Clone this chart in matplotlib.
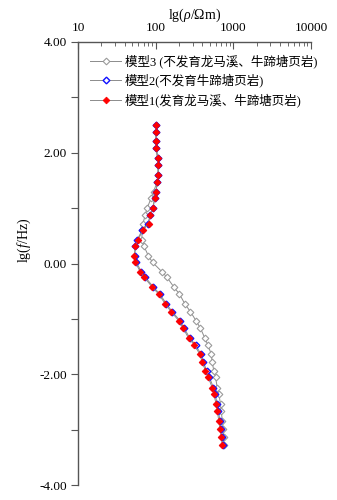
import matplotlib
matplotlib.use('Agg')
import matplotlib.pyplot as plt
from matplotlib.ticker import FixedLocator, NullFormatter, LogLocator

plt.rcParams['font.family'] = ['Liberation Serif', 'Noto Sans CJK SC', 'DejaVu Sans']
plt.rcParams['mathtext.fontset'] = 'custom'
plt.rcParams['mathtext.rm'] = 'Liberation Serif'
plt.rcParams['mathtext.it'] = 'Liberation Serif:italic'

# lg(f/Hz) 频点
lgf = [2.51, 2.38, 2.21, 2.08, 1.90, 1.78, 1.60, 1.48, 1.30, 1.18,
       1.00, 0.88, 0.72, 0.60, 0.43, 0.31, 0.14, 0.02, -0.15, -0.25,
       -0.42, -0.55, -0.73, -0.87, -1.03, -1.17, -1.35, -1.47, -1.63, -1.77,
       -1.94, -2.05, -2.24, -2.36, -2.54, -2.66, -2.84, -2.98, -3.14, -3.28]

# lg(rho) 模型1
rho1 = [2.004, 2.004, 2.004, 2.008, 2.025, 2.034, 2.030, 2.021, 2.004, 1.986,
        1.965, 1.930, 1.908, 1.836, 1.771, 1.740, 1.724, 1.740, 1.801, 1.853,
        1.952, 2.037, 2.124, 2.198, 2.296, 2.353, 2.425, 2.499, 2.564, 2.598,
        2.641, 2.676, 2.727, 2.748, 2.779, 2.792, 2.813, 2.826, 2.844, 2.857]

# lg(rho) 模型2
rho2 = [2.004, 2.004, 2.004, 2.008, 2.025, 2.034, 2.030, 2.021, 2.004, 1.986,
        1.965, 1.930, 1.900, 1.826, 1.762, 1.735, 1.732, 1.752, 1.815, 1.868,
        1.967, 2.052, 2.139, 2.213, 2.311, 2.368, 2.440, 2.514, 2.579, 2.613,
        2.656, 2.691, 2.742, 2.763, 2.794, 2.807, 2.828, 2.841, 2.859, 2.870]

# lg(rho) 模型3
rho3 = [2.004, 2.004, 2.004, 2.008, 2.025, 2.034, 2.030, 2.021, 1.973, 1.940,
        1.891, 1.866, 1.836, 1.823, 1.823, 1.850, 1.905, 1.960, 2.081, 2.146,
        2.231, 2.305, 2.376, 2.447, 2.518, 2.576, 2.634, 2.671, 2.714, 2.727,
        2.748, 2.770, 2.792, 2.813, 2.835, 2.844, 2.857, 2.870, 2.877, 2.880]

labels = ['模型3 (不发育龙马溪、牛蹄塘页岩)', '模型2(不发育牛蹄塘页岩)', '模型1(发育龙马溪、牛蹄塘页岩)']

r1 = [10 ** v for v in rho1]
r2 = [10 ** v for v in rho2]
r3 = [10 ** v for v in rho3]

fig = plt.figure(figsize=(3.37, 5.0), dpi=100)
ax = fig.add_axes([0.2315, 0.03, 0.6915, 0.886])

lc = '#8c8c8c'
ax.plot(r3, lgf, '-', color=lc, lw=0.7, marker='D', ms=3.4, mfc='white', mec='#9a9a9a', mew=0.8, label=labels[0])
ax.plot(r2, lgf, '-', color=lc, lw=0.7, marker='D', ms=3.4, mfc='white', mec='#1010ff', mew=1.0, label=labels[1])
ax.plot(r1, lgf, '-', color=lc, lw=0.7, marker='D', ms=3.4, mfc='#ff0000', mec='#ff0000', mew=0.6, label=labels[2])

ax.set_xscale('log')
ax.set_xlim(10, 10000)
ax.set_ylim(-4, 4)

ax.xaxis.set_ticks_position('top')
ax.xaxis.set_label_position('top')
ax.spines['right'].set_visible(False)
ax.spines['bottom'].set_visible(False)
for s in ['top', 'left']:
    ax.spines[s].set_color('#555555')
    ax.spines[s].set_linewidth(1.0)

ax.set_xticks([10, 100, 1000, 10000])
ax.set_xticklabels(['10', '100', '1000', '10000'])
ax.xaxis.set_minor_locator(LogLocator(base=10, subs=range(2, 10)))
ax.xaxis.set_minor_formatter(NullFormatter())
ax.tick_params(axis='x', which='major', direction='in', length=5, width=0.8, color='#555555', labelsize=9.5, pad=6)
ax.tick_params(axis='x', which='minor', direction='in', length=3, width=0.6, color='#555555')

ax.set_yticks([4, 2, 0, -2, -4])
ax.set_yticklabels(['4.00', '2.00', '0.00', '-2.00', '-4.00'])
ax.yaxis.set_minor_locator(FixedLocator([3, 1, -1, -3]))
ax.tick_params(axis='y', which='major', direction='out', length=5, width=0.8, color='#555555', labelsize=9.5, pad=3)
ax.tick_params(axis='y', which='minor', direction='out', length=5, width=0.8, color='#555555')

ax.set_xlabel(r'lg($\it{\rho}$/Ωm)', fontsize=10, labelpad=2)
ax.set_ylabel(r'lg($\it{f}$/Hz)', fontsize=10)
ax.yaxis.set_label_coords(-0.195, 0.553)

ax.legend(loc='upper left', bbox_to_anchor=(0.02, 0.99), frameon=False, fontsize=9,
          handlelength=2.5, handletextpad=0.25, labelspacing=0.45, borderaxespad=0.2)

fig.savefig('out.png', dpi=100)
